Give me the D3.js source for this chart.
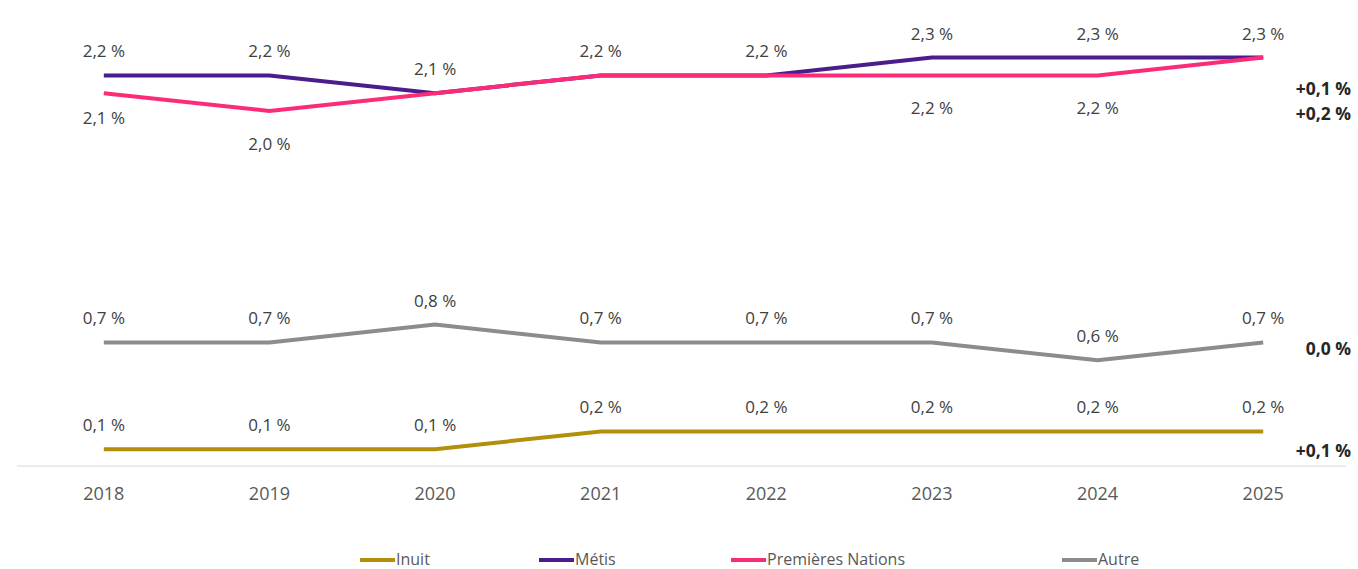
<!DOCTYPE html>
<html>
<head>
<meta charset="utf-8">
<script src="https://cdn.jsdelivr.net/npm/d3@7"></script>
<style>
  body { margin: 0; background: #fff; }
  svg text { font-family: "Open Sans", "Noto Sans", sans-serif; }
</style>
</head>
<body>
<div id="chart"></div>
<script>
// data
const years = ['2018', '2019', '2020', '2021', '2022', '2023', '2024', '2025']
const inuit = [0.1, 0.1, 0.1, 0.2, 0.2, 0.2, 0.2, 0.2]
const metis = [2.2, 2.2, 2.1, 2.2, 2.2, 2.3, 2.3, 2.3]
const premieresNations = [2.1, 2.0, 2.1, 2.2, 2.2, 2.2, 2.2, 2.3]
const autre = [0.7, 0.7, 0.8, 0.7, 0.7, 0.7, 0.6, 0.7]
const changes = ['+0,1 %', '+0,1 %', '+0,2 %', '0,0 %'] // inuit, metis, PN, autre

const width = 1358,
  height = 569

const series = [
  { name: 'Inuit', values: inuit, color: '#b38f0b', change: changes[0], labelPos: 'above' },
  { name: 'Métis', values: metis, color: '#4a1c8c', change: changes[1], labelPos: 'above' },
  { name: 'Premières Nations', values: premieresNations, color: '#fb2b78', change: changes[2], labelPos: 'below' },
  { name: 'Autre', values: autre, color: '#8c8c8c', change: changes[3], labelPos: 'above' }
]

const xScale = d3.scaleBand()
  .domain(years)
  .range([21, 1346])

const yScale = d3.scaleLinear()
  .domain([0, 2.3])
  .range([467, 57.6])

const fmt = v => d3.format('.1f')(v).replace('.', ',') + ' %'
const cx = y => xScale(y) + xScale.bandwidth() / 2

let svg = d3.select('#chart')
  .append('svg')
  .attr('width', width)
  .attr('height', height)

// baseline
svg.append('line')
  .attr('x1', 17).attr('x2', 1346)
  .attr('y1', yScale(0) - 1).attr('y2', yScale(0) - 1)
  .attr('stroke', '#d9d9d9')
  .attr('stroke-width', 1)

// x axis
const xAxis = d3.axisBottom(xScale).tickSize(0).tickPadding(0)
const gx = svg.append('g')
  .attr('transform', 'translate(0, 494)')
  .call(xAxis)
gx.select('.domain').remove()
gx.selectAll('text')
  .attr('font-size', 18)
  .attr('fill', '#595959')
  .attr('dy', '0.35em')

const line = d3.line()
  .x((d, i) => cx(years[i]))
  .y(d => yScale(d))

// lines (Autre, Inuit, Métis, then PN on top)
const drawOrder = [series[3], series[0], series[1], series[2]]
svg.selectAll('path.serie')
  .data(drawOrder)
  .enter()
  .append('path')
  .attr('class', 'serie')
  .attr('d', d => line(d.values))
  .attr('fill', 'none')
  .attr('stroke', d => d.color)
  .attr('stroke-width', 4)

// point labels
series.forEach((s) => {
  s.values.forEach((v, i) => {
    // PN label hidden where it coincides with Métis
    if (s.name === 'Premières Nations' && v === metis[i]) return
    let off = -24
    if (s.labelPos === 'below') off = i === 0 ? 25 : 33
    svg.append('text')
      .attr('x', cx(years[i]))
      .attr('y', yScale(v) + off)
      .attr('dy', '0.35em')
      .attr('text-anchor', 'middle')
      .attr('font-size', 17)
      .attr('fill', '#404040')
      .text(fmt(v))
  })
})

// change labels on the right
const changeY = { 'Inuit': 451, 'Métis': 89, 'Premières Nations': 114, 'Autre': 349 }
series.forEach((s) => {
  svg.append('text')
    .attr('x', 1351)
    .attr('y', changeY[s.name])
    .attr('dy', '0.35em')
    .attr('text-anchor', 'end')
    .attr('font-size', 17.5)
    .attr('font-weight', 'bold')
    .attr('fill', '#262626')
    .text(s.change)
})

// legend
const legendX = [360, 539, 731, 1062]
const legend = svg.selectAll('g.legend')
  .data(series)
  .enter()
  .append('g')
  .attr('class', 'legend')
  .attr('transform', (d, i) => `translate(${legendX[i]}, 560)`)
legend.append('line')
  .attr('x1', 0).attr('x2', 35)
  .attr('y1', 0).attr('y2', 0)
  .attr('stroke', d => d.color)
  .attr('stroke-width', 4)
legend.append('text')
  .attr('x', 36)
  .attr('dy', '0.3em')
  .attr('font-size', 16)
  .attr('fill', '#595959')
  .text(d => d.name)
</script>
</body>
</html>
